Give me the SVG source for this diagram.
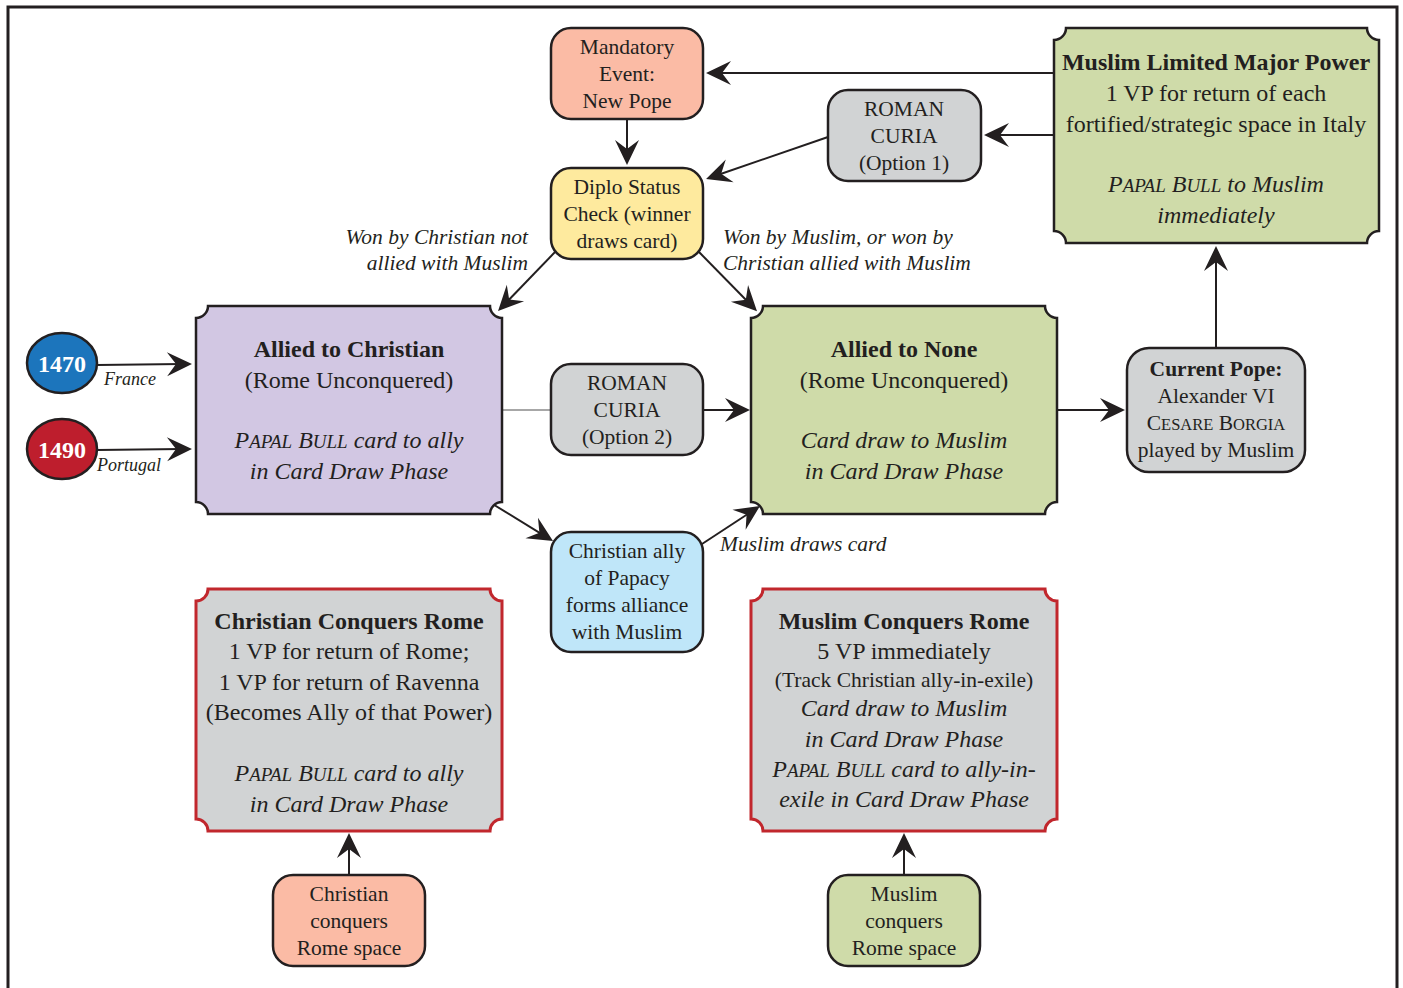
<svg xmlns="http://www.w3.org/2000/svg" width="1403" height="988" viewBox="0 0 1403 988">
<defs>
<style>
.t{font-family:"Liberation Serif","Times New Roman",serif;fill:#231f20;text-anchor:middle}
.s{font-size:21.5px}
.m{font-size:24px}
.b{font-weight:bold}
.i{font-style:italic}
.lbl{font-family:"Liberation Serif","Times New Roman",serif;fill:#231f20;font-style:italic;font-size:21.5px}
.rr{stroke:#231f20;stroke-width:2.5}
.nb{stroke:#231f20;stroke-width:2.5}
.nr{stroke:#c1272d;stroke-width:3}
.c{fill:none;stroke:#231f20;stroke-width:2}
.salmon{fill:#fbbba5}
.yellow{fill:#feea9e}
.gray{fill:#d1d3d4}
.lav{fill:#d2c7e3}
.green{fill:#cfdba9}
.blue{fill:#bfe6f9}
</style>
<marker id="ah" viewBox="-27 -13 29 26" markerWidth="29" markerHeight="26" refX="-10" refY="0" orient="auto" markerUnits="userSpaceOnUse">
<path d="M0,0 L-25,-12 L-16,0 L-25,12 Z" fill="#231f20"/>
</marker>
</defs>
<rect width="1403" height="988" fill="#ffffff"/>
<path d="M8,990 V7 H1397 V990" fill="none" stroke="#231f20" stroke-width="3"/>

<g id="connectors">
<path class="c" d="M1054,73 H716" marker-end="url(#ah)" stroke-width="1.8"/>
<path class="c" d="M1054,135 H994" marker-end="url(#ah)" stroke-width="1.8"/>
<path class="c" d="M828,137 L715.5,175.7" marker-end="url(#ah)"/>
<path class="c" d="M627,119 V155" marker-end="url(#ah)" stroke-width="2.5"/>
<path class="c" d="M556,251 L505,303.8" marker-end="url(#ah)"/>
<path class="c" d="M699,252 L750,304" marker-end="url(#ah)"/>
<path d="M502,410 H551" fill="none" stroke="#8a8a8a" stroke-width="1.5"/>
<path class="c" d="M703,410 H740" marker-end="url(#ah)"/>
<path class="c" d="M491,503 L544.5,535.8" marker-end="url(#ah)"/>
<path class="c" d="M702,544 L751.6,511.5" marker-end="url(#ah)"/>
<path class="c" d="M1057,410 H1115" marker-end="url(#ah)"/>
<path class="c" d="M1216,347 V256" marker-end="url(#ah)"/>
<path class="c" d="M97,365 L182,364" marker-end="url(#ah)"/>
<path class="c" d="M97,450 L182,449" marker-end="url(#ah)"/>
<path class="c" d="M349,875 V843" marker-end="url(#ah)"/>
<path class="c" d="M904,875 V843" marker-end="url(#ah)"/>
<text class="lbl" x="528" y="244" text-anchor="end">Won by Christian not</text>
<text class="lbl" x="528" y="270" text-anchor="end">allied with Muslim</text>
<text class="lbl" x="723" y="244">Won by Muslim, or won by</text>
<text class="lbl" x="723" y="270">Christian allied with Muslim</text>
<text class="lbl" x="720" y="551">Muslim draws card</text>
<text class="lbl" x="104" y="385" style="font-size:18px">France</text>
<text class="lbl" x="97" y="471" style="font-size:18px">Portugal</text>
</g>

<g id="mandatory-event">
<rect class="rr salmon" x="551" y="28" width="152" height="91" rx="20"/>
<text class="t s" x="627" y="54">Mandatory</text>
<text class="t s" x="627" y="81">Event:</text>
<text class="t s" x="627" y="108">New Pope</text>
</g>

<g id="diplo-status">
<rect class="rr yellow" x="551" y="168" width="152" height="91" rx="20"/>
<text class="t s" x="627" y="194">Diplo Status</text>
<text class="t s" x="627" y="221">Check (winner</text>
<text class="t s" x="627" y="248">draws card)</text>
</g>

<g id="roman-curia-1">
<rect class="rr gray" x="828" y="90" width="153" height="91" rx="20"/>
<text class="t s" x="904" y="116">ROMAN</text>
<text class="t s" x="904" y="143">CURIA</text>
<text class="t s" x="904" y="170">(Option 1)</text>
</g>

<g id="muslim-limited">
<path class="nb green" d="M1066,28 H1367 A12,12 0 0 0 1379,40 V231 A12,12 0 0 0 1367,243 H1066 A12,12 0 0 0 1054,231 V40 A12,12 0 0 0 1066,28 Z"/>
<text class="t m b" x="1216" y="70">Muslim Limited Major Power</text>
<text class="t m" x="1216" y="101">1 VP for return of each</text>
<text class="t m" x="1216" y="132">fortified/strategic space in Italy</text>
<text class="t m i" x="1216" y="192">P<tspan font-size="19">APAL</tspan> B<tspan font-size="19">ULL</tspan> to Muslim</text>
<text class="t m i" x="1216" y="223">immediately</text>
</g>

<g id="allied-christian">
<path class="nb lav" d="M208,306 H490 A12,12 0 0 0 502,318 V502 A12,12 0 0 0 490,514 H208 A12,12 0 0 0 196,502 V318 A12,12 0 0 0 208,306 Z"/>
<text class="t m b" x="349" y="357">Allied to Christian</text>
<text class="t m" x="349" y="388">(Rome Unconquered)</text>
<text class="t m i" x="349" y="448">P<tspan font-size="19">APAL</tspan> B<tspan font-size="19">ULL</tspan> card to ally</text>
<text class="t m i" x="349" y="479">in Card Draw Phase</text>
</g>

<g id="roman-curia-2">
<rect class="rr gray" x="551" y="364" width="152" height="91" rx="20"/>
<text class="t s" x="627" y="390">ROMAN</text>
<text class="t s" x="627" y="417">CURIA</text>
<text class="t s" x="627" y="444">(Option 2)</text>
</g>

<g id="allied-none">
<path class="nb green" d="M763,306 H1045 A12,12 0 0 0 1057,318 V502 A12,12 0 0 0 1045,514 H763 A12,12 0 0 0 751,502 V318 A12,12 0 0 0 763,306 Z"/>
<text class="t m b" x="904" y="357">Allied to None</text>
<text class="t m" x="904" y="388">(Rome Unconquered)</text>
<text class="t m i" x="904" y="448">Card draw to Muslim</text>
<text class="t m i" x="904" y="479">in Card Draw Phase</text>
</g>

<g id="current-pope">
<rect class="rr gray" x="1127" y="348" width="178" height="124" rx="22"/>
<text class="t s b" x="1216" y="376">Current Pope:</text>
<text class="t s" x="1216" y="403">Alexander VI</text>
<text class="t s" x="1216" y="430">C<tspan font-size="16.5">ESARE</tspan> B<tspan font-size="16.5">ORGIA</tspan></text>
<text class="t s" x="1216" y="457">played by Muslim</text>
</g>

<g id="christian-ally">
<rect class="rr blue" x="551" y="532" width="152" height="120" rx="20"/>
<text class="t s" x="627" y="558">Christian ally</text>
<text class="t s" x="627" y="585">of Papacy</text>
<text class="t s" x="627" y="612">forms alliance</text>
<text class="t s" x="627" y="639">with Muslim</text>
</g>

<g id="christian-conquers-rome">
<path class="nr gray" d="M208,589 H490 A12,12 0 0 0 502,601 V819 A12,12 0 0 0 490,831 H208 A12,12 0 0 0 196,819 V601 A12,12 0 0 0 208,589 Z"/>
<text class="t m b" x="349" y="629">Christian Conquers Rome</text>
<text class="t m" x="349" y="659">1 VP for return of Rome;</text>
<text class="t m" x="349" y="690">1 VP for return of Ravenna</text>
<text class="t m" x="349" y="720">(Becomes Ally of that Power)</text>
<text class="t m i" x="349" y="781">P<tspan font-size="19">APAL</tspan> B<tspan font-size="19">ULL</tspan> card to ally</text>
<text class="t m i" x="349" y="812">in Card Draw Phase</text>
</g>

<g id="muslim-conquers-rome">
<path class="nr gray" d="M763,589 H1045 A12,12 0 0 0 1057,601 V819 A12,12 0 0 0 1045,831 H763 A12,12 0 0 0 751,819 V601 A12,12 0 0 0 763,589 Z"/>
<text class="t m b" x="904" y="629">Muslim Conquers Rome</text>
<text class="t m" x="904" y="659">5 VP immediately</text>
<text class="t" x="904" y="687" font-size="21.5">(Track Christian ally-in-exile)</text>
<text class="t m i" x="904" y="716">Card draw to Muslim</text>
<text class="t m i" x="904" y="747">in Card Draw Phase</text>
<text class="t m i" x="904" y="777">P<tspan font-size="19">APAL</tspan> B<tspan font-size="19">ULL</tspan> card to ally-in-</text>
<text class="t m i" x="904" y="807">exile in Card Draw Phase</text>
</g>

<g id="christian-conquers-space">
<rect class="rr salmon" x="273" y="875" width="152" height="91" rx="20"/>
<text class="t s" x="349" y="901">Christian</text>
<text class="t s" x="349" y="928">conquers</text>
<text class="t s" x="349" y="955">Rome space</text>
</g>

<g id="muslim-conquers-space">
<rect class="rr green" x="828" y="875" width="152" height="91" rx="20"/>
<text class="t s" x="904" y="901">Muslim</text>
<text class="t s" x="904" y="928">conquers</text>
<text class="t s" x="904" y="955">Rome space</text>
</g>

<g id="france-1470">
<ellipse cx="62" cy="363" rx="35" ry="30" fill="#1c75bc" stroke="#231f20" stroke-width="2.5"/>
<text class="t b" x="62" y="372" font-size="24" style="fill:#ffffff">1470</text>
</g>

<g id="portugal-1490">
<ellipse cx="62" cy="449" rx="35" ry="30" fill="#be1e2d" stroke="#231f20" stroke-width="2.5"/>
<text class="t b" x="62" y="458" font-size="24" style="fill:#ffffff">1490</text>
</g>
</svg>
